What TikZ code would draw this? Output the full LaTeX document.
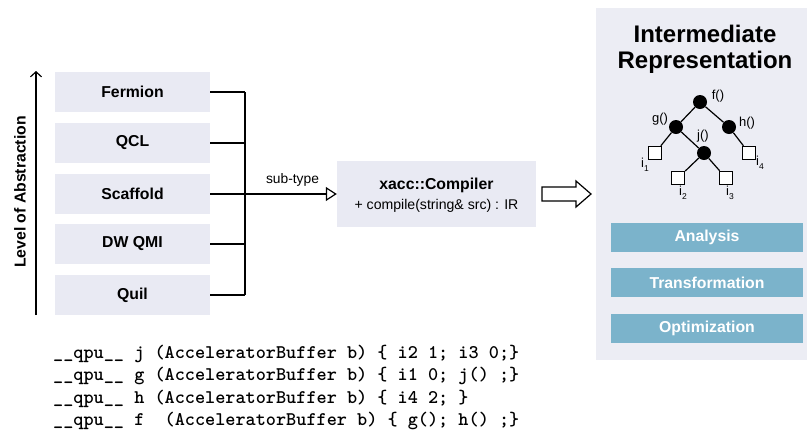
\documentclass[tikz,border=0pt]{standalone}
\usepackage{fontspec}
\setmainfont{Liberation Sans}
\newfontfamily\codefont{lmmonolt10-bold.otf}
\usetikzlibrary{arrows.meta}
\definecolor{boxgray}{RGB}{233,234,243}
\definecolor{panelgray}{RGB}{236,237,244}
\definecolor{boxblue}{RGB}{123,179,203}
\tikzset{
  langbox/.style={fill=boxgray, minimum width=155pt, minimum height=40pt, inner sep=0pt,
    font=\fontsize{15.8}{18}\selectfont\bfseries},
  opbox/.style={fill=boxblue, minimum width=192pt, minimum height=29pt, inner sep=0pt,
    text=white, font=\fontsize{15.8}{18}\selectfont\bfseries},
  conn/.style={line width=1.2pt, black},
  fnode/.style={circle, fill=black, minimum size=14pt, inner sep=0pt},
  leaf/.style={draw, fill=white, line width=1pt, minimum size=13.5pt, inner sep=0pt},
  tlabel/.style={font=\fontsize{13}{14}\selectfont, inner sep=0pt},
  codeline/.style={anchor=base west, inner sep=0pt, font=\fontsize{19.3}{20}\codefont}
}
\newcommand{\isub}[1]{i\raisebox{-4pt}{\fontsize{8.5}{9}\selectfont #1}}
\begin{document}
\begin{tikzpicture}[x=1pt,y=-1pt]
\useasboundingbox (0,0) rectangle (807,437);
\fill[white] (0,0) rectangle (807,437);

% right panel
\node[fill=panelgray, minimum width=211pt, minimum height=352pt, inner sep=0pt, anchor=north west] (panel) at (596,8) {};
\node[align=center, font=\fontsize{24}{26}\selectfont\bfseries, inner sep=0pt] (title) at (705,49) {Intermediate\\Representation};

% tree
\node[fnode] (f) at (700,102) {};
\node[fnode] (g) at (676,127) {};
\node[fnode] (h) at (729,127) {};
\node[fnode] (j) at (704,153) {};
\node[leaf] (i1) at (655,153) {};
\node[leaf] (i2) at (678,178) {};
\node[leaf] (i3) at (726,178) {};
\node[leaf] (i4) at (749,153) {};
\draw[conn] (f) -- (g);
\draw[conn] (f) -- (h);
\draw[conn] (g) -- (i1);
\draw[conn] (g) -- (j);
\draw[conn] (j) -- (i2);
\draw[conn] (j) -- (i3);
\draw[conn] (h) -- (i4);
\node[tlabel] (lf) at (718,96) {f()};
\node[tlabel] (lg) at (660,119) {g()};
\node[tlabel] (lj) at (703,136) {j()};
\node[tlabel] (lh) at (747,123) {h()};
\node[tlabel] (li1) at (645,165) {\isub{1}};
\node[tlabel] (li2) at (683,193) {\isub{2}};
\node[tlabel] (li3) at (730,193) {\isub{3}};
\node[tlabel] (li4) at (760,163) {\isub{4}};

% operations
\node[opbox] (analysis) at (707,237.5) {Analysis};
\node[opbox] (transform) at (707,282.5) {Transformation};
\node[opbox] (optim) at (707,328) {Optimization};

% language boxes
\node[langbox] (fermion) at (132.5,92) {Fermion};
\node[langbox] (qcl) at (132.5,143) {QCL};
\node[langbox] (scaffold) at (132.5,194) {Scaffold};
\node[langbox] (dwqmi) at (132.5,244) {DW QMI};
\node[langbox] (quil) at (132.5,295) {Quil};

% bracket
\coordinate (bx) at (245,0);
\draw[conn] (fermion.east) -- (bx|-fermion.east);
\draw[conn] (qcl.east) -- (bx|-qcl.east);
\draw[conn] (dwqmi.east) -- (bx|-dwqmi.east);
\draw[conn] (quil.east) -- (bx|-quil.east);
\draw[conn] (bx|-fermion.east) -- (bx|-quil.east);

% compiler
\node[fill=boxgray, minimum width=199pt, minimum height=66pt, inner sep=0pt] (compiler) at (436.5,194) {};
\node[inner sep=0pt, font=\fontsize{15.8}{18}\selectfont\bfseries] (cname) at (436.5,185) {xacc::Compiler};
\node[inner sep=0pt, font=\fontsize{14.1}{16}\selectfont] (cmeth) at (436.5,206) {+ compile(string\& src) : IR};
\draw[conn, -{Triangle[open, length=11pt, width=14pt, line width=1.2pt]}] (scaffold.east) -- (compiler.west)
  node[pos=0.65, above=7pt, inner sep=0pt, font=\fontsize{13.8}{16}\selectfont] (subtype) {sub-type};

% block arrow
\draw[line width=1.2pt, fill=white] (542,187) -- (576,187) -- (576,181) -- (591,194) -- (576,207) -- (576,201) -- (542,201) -- cycle;

% abstraction axis
\coordinate (axb) at (36,315);
\coordinate (axt) at (36,71);
\draw[conn, -{Straight Barb[length=5pt, width=11pt, line width=1.2pt]}] (axb) -- (axt);
\node[rotate=90, inner sep=0pt, font=\fontsize{15.8}{18}\selectfont\bfseries] (axlabel) at (20,192) {Level of Abstraction};

% code
\node[codeline] (c1) at (53,358) {\_\_qpu\_\_ j (AcceleratorBuffer b) \{ i2 1; i3 0;\}};
\node[codeline] (c2) at (53,380.5) {\_\_qpu\_\_ g (AcceleratorBuffer b) \{ i1 0; j() ;\}};
\node[codeline] (c3) at (53,403) {\_\_qpu\_\_ h (AcceleratorBuffer b) \{ i4 2; \}};
\node[codeline] (c4) at (53,425.5) {\_\_qpu\_\_ f\ \ (AcceleratorBuffer b) \{ g(); h() ;\}};
\end{tikzpicture}
\end{document}
